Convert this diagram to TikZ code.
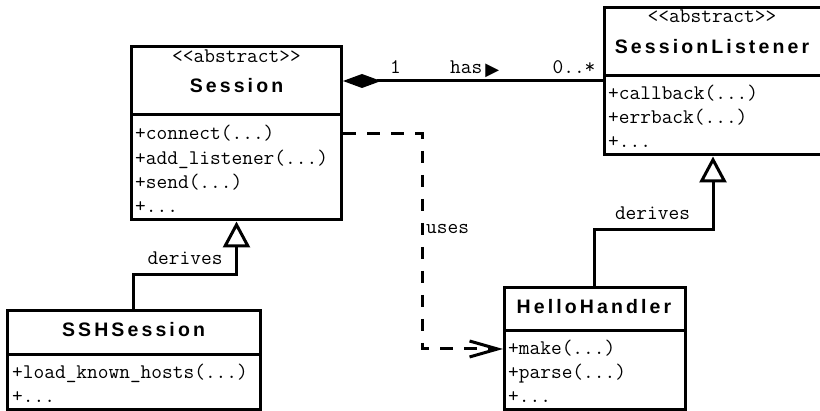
\documentclass[tikz,border=0pt]{standalone}
\usepackage{fontspec}
\newfontfamily\titlefont[LetterSpace=16]{Liberation Sans}
\newfontfamily\symfont{DejaVu Sans}
\usetikzlibrary{arrows.meta}
\tikzset{
  box/.style={draw, line width=3pt, rectangle, inner sep=0pt},
  mono/.style={font=\ttfamily\fontsize{20.8}{22}\selectfont, inner sep=0pt},
  ttl/.style={font=\titlefont\bfseries\fontsize{19.5}{22}\selectfont, inner sep=0pt, anchor=base},
  stereo/.style={mono, anchor=base},
  meth/.style={mono, anchor=base west},
  lbl/.style={mono, anchor=base},
  conn/.style={line width=3pt},
  usesline/.style={conn, dash pattern=on 12.5pt off 11.5pt, -{Straight Barb[length=28pt,width=16pt]}},
  inh/.style={conn, -{Triangle[open,length=26pt,width=27pt]}},
  compo/.style={conn, {Diamond[length=38pt,width=14pt]}-}
}
\begin{document}
\begin{tikzpicture}[x=1pt,y=-1pt]
\clip (0,0) rectangle (820,411);
\fill[white] (0,0) rectangle (820,411);

% Session
\node[box, minimum width=210pt, minimum height=68.5pt] (sesT) at (236.5,80.75) {};
\node[box, minimum width=210pt, minimum height=105pt] (sesM) at (236.5,167.5) {};
\node[stereo] (sesS) at (236.5,62.5) {<<abstract>>};
\node[ttl] (sesN) at (236.5,92.5) {Session};
\node[meth] (sesm1) at (135,140) {+connect(...)};
\node[meth] (sesm2) at (135,164.3) {+add\_listener(...)};
\node[meth] (sesm3) at (135,188.6) {+send(...)};
\node[meth] (sesm4) at (135,212.9) {+...};

% SessionListener
\node[box, minimum width=218pt, minimum height=68pt] (slT) at (713,41.5) {};
\node[box, minimum width=218pt, minimum height=79.5pt] (slM) at (713,115.25) {};
\node[stereo] (slS) at (712,22.7) {<<abstract>>};
\node[ttl] (slN) at (712,54) {SessionListener};
\node[meth] (slm1) at (608,99.3) {+callback(...)};
\node[meth] (slm2) at (608,123.5) {+errback(...)};
\node[meth] (slm3) at (608,147.7) {+...};

% HelloHandler
\node[box, minimum width=180.5pt, minimum height=43pt] (hhT) at (594.75,309) {};
\node[box, minimum width=180.5pt, minimum height=79pt] (hhM) at (594.75,370) {};
\node[ttl] (hhN) at (594,313.3) {HelloHandler};
\node[meth] (hhm1) at (508,354.3) {+make(...)};
\node[meth] (hhm2) at (508,378.6) {+parse(...)};
\node[meth] (hhm3) at (508,402.9) {+...};

% SSHSession
\node[box, minimum width=252.5pt, minimum height=43.5pt] (sshT) at (133.75,332.75) {};
\node[box, minimum width=252.5pt, minimum height=55.5pt] (sshM) at (133.75,382.25) {};
\node[ttl] (sshN) at (133.5,336.7) {SSHSession};
\node[meth] (sshm1) at (12,379) {+load\_known\_hosts(...)};
\node[meth] (sshm2) at (12,403) {+...};

% has
\draw[compo] (sesT.east |- 0,81) -- (slM.west |- 0,81);
\node[lbl] (one) at (395.5,73.5) {1};
\node[mono, anchor=base west] (has) at (450,73.5) {has\hspace{3pt}\raisebox{-2.5pt}{\symfont\fontsize{18}{18}\selectfont ▶}};
\node[lbl] (many) at (574,73.5) {0..*};

% uses
\draw[usesline] (sesM.east |- 0,134) -- (422,134) -- (422,349) -- (hhM.west |- 0,349);
\node[mono, anchor=base west] (uses) at (426,233.3) {uses};

% derives
\draw[inh] (sshT.north) |- (sesM.south |- 0,275) -- (sesM.south);
\node[lbl] (der1) at (185,265) {derives};
\draw[inh] (hhT.north) |- (slM.south |- 0,229.5) -- (slM.south);
\node[lbl] (der2) at (652.5,220) {derives};
\end{tikzpicture}
\end{document}
